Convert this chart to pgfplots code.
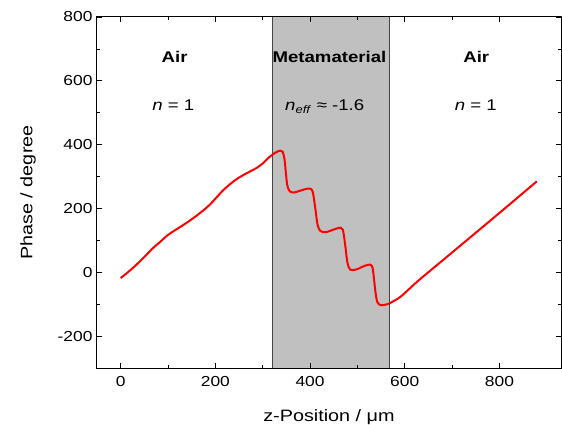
\documentclass[border=0pt]{standalone}
\usepackage{fontspec}
\setmainfont[FakeStretch=1.2]{Liberation Sans}
\usepackage{pgfplots}
\pgfplotsset{compat=1.18}
\definecolor{regiongray}{RGB}{192,192,192}
\definecolor{edgegray}{RGB}{70,70,70}
\begin{document}
\begin{tikzpicture}
\begin{axis}[
  width=464pt, height=351pt, scale only axis,
  xmin=-50, xmax=930, ymin=-300, ymax=800,
  xtick={0,200,400,600,800}, ytick={-200,0,200,400,600,800},
  minor tick num=1,
  tick pos=both, tick align=inside,
  major tick length=5pt, minor tick length=3pt,
  every tick/.style={black, line width=0.8pt},
  axis line style={black, line width=1pt},
  /pgf/number format/assume math mode=true,
  ticklabel style={font=\fontsize{14.5}{16}\selectfont},
  xticklabel style={yshift=-5pt},
  yticklabel style={xshift=-1pt},
  label style={font=\fontsize{16.5}{18}\selectfont},
  xlabel={z-Position / μm},
  ylabel={Phase / degree},
  xlabel style={yshift=-16pt},
  ylabel style={yshift=15pt},
  axis on top,
  clip=true,
]
% metamaterial region
\addplot[fill=regiongray, draw=none] coordinates {(320,-300) (567,-300) (567,800) (320,800)} \closedcycle;
\addplot[edgegray, line width=1pt] coordinates {(320,-300) (320,800)};
\addplot[edgegray, line width=1pt] coordinates {(567,-300) (567,800)};
% phase curve
\addplot[red, line width=2pt, smooth, tension=0.5] coordinates {
(0,-18) (16,1) (32,22) (50,48) (67,74) (84,96) (99,116) (115,132) (131,147)
(145,161) (159,176) (173,192) (187,210) (201,232) (215,255) (230,275)
(244,291) (258,304) (272,315) (286,326) (300,341) (314,361) (328,376) (337,381) (342,378)
(346,355) (349,310) (352,272) (357,254) (366,250) (380,256) (394,262) (402,261)
(406,250) (409,222) (412,190) (416,148) (422,129) (434,126) (452,135) (464,140)
(469,134) (472,110) (475,76) (479,30) (485,8) (498,9) (515,20) (527,24) (532,14)
(535,-20) (538,-60) (542,-93) (549,-103) (561,-101) (572,-94) (590,-78) (611,-50)
(632,-22) (700,62) (800,186) (879,285)
};
\node[anchor=base, font=\fontsize{15.5}{18}\selectfont\bfseries] at (axis cs:114,656) {Air};
\node[anchor=base, font=\fontsize{15.5}{18}\selectfont] at (axis cs:111,508) {\textit{n} = 1};
\node[anchor=base, font=\fontsize{15.5}{18}\selectfont\bfseries] at (axis cs:441,656) {Metamaterial};
\node[anchor=base, font=\fontsize{15.5}{18}\selectfont] at (axis cs:431,508) {\textit{n}\textsubscript{\textit{eff}} ≈ -1.6};
\node[anchor=base, font=\fontsize{15.5}{18}\selectfont\bfseries] at (axis cs:751,656) {Air};
\node[anchor=base, font=\fontsize{15.5}{18}\selectfont] at (axis cs:750,508) {\textit{n} = 1};
\end{axis}
\pgfresetboundingbox
\path[use as bounding box] ([xshift=-97pt,yshift=-56pt]current axis.south west) rectangle ([xshift=1pt,yshift=17pt]current axis.north east);
\end{tikzpicture}
\end{document}
